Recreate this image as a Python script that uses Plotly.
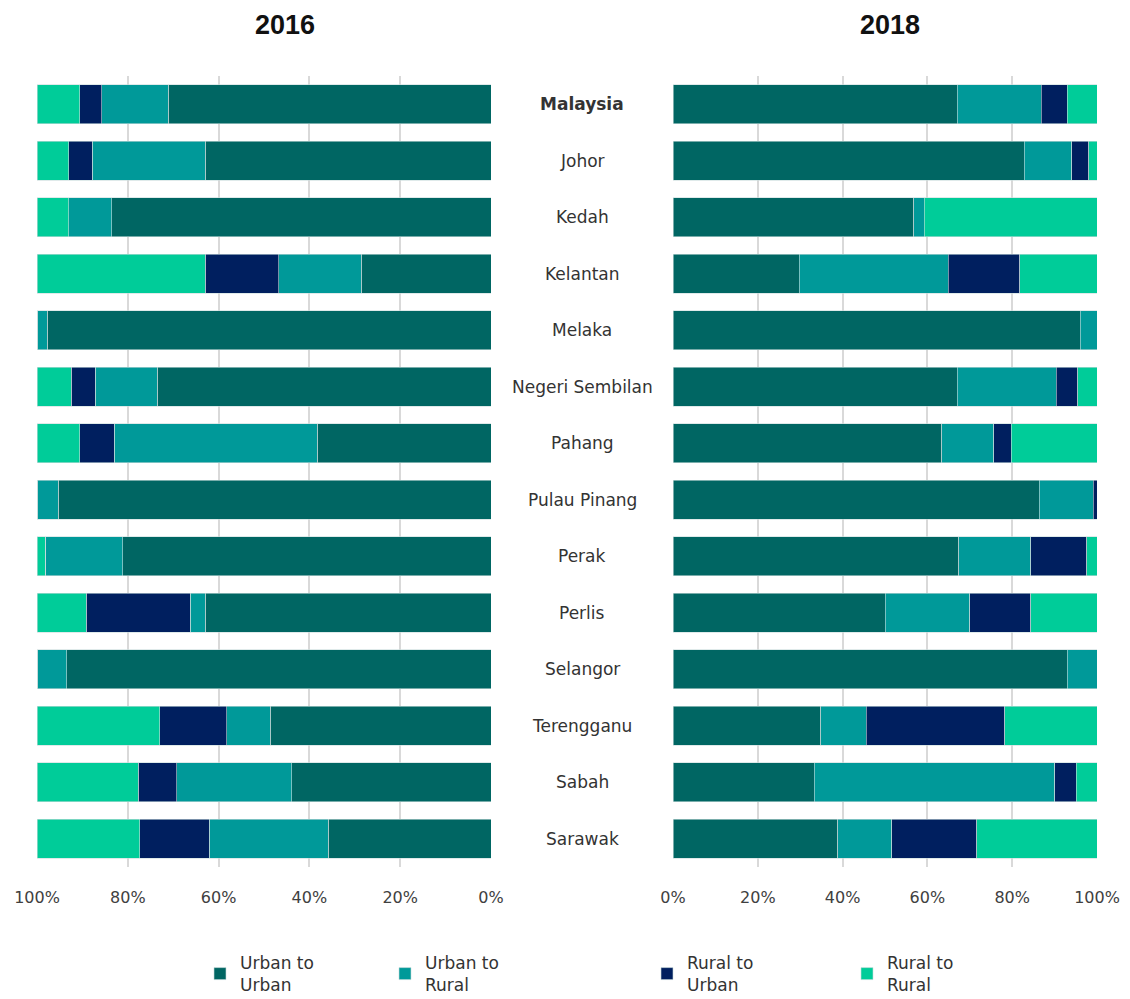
import plotly.graph_objects as go
from plotly.subplots import make_subplots

states = ["Malaysia", "Johor", "Kedah", "Kelantan", "Melaka", "Negeri Sembilan", "Pahang",
          "Pulau Pinang", "Perak", "Perlis", "Selangor", "Terengganu", "Sabah", "Sarawak"]

series_names = ["Urban to<br>Urban", "Urban to<br>Rural", "Rural to<br>Urban", "Rural to<br>Rural"]
colors = ["#006663", "#009999", "#001F5F", "#00CC99"]

# 2016 (%)
uu_2016 = [71.0, 62.9, 83.4, 28.6, 97.7, 73.4, 38.2, 95.2, 81.0, 62.9, 93.3, 48.6, 43.8, 35.8]
ur_2016 = [14.7, 24.8, 9.5, 18.1, 2.2, 13.6, 44.7, 4.7, 17.1, 3.3, 6.5, 9.5, 25.3, 26.2]
ru_2016 = [4.8, 5.2, 0.0, 16.2, 0.0, 5.3, 7.6, 0.0, 0.0, 22.9, 0.0, 14.8, 8.5, 15.3]
rr_2016 = [9.4, 7.0, 7.0, 37.0, 0.0, 7.5, 9.4, 0.0, 1.8, 10.8, 0.0, 27.0, 22.3, 22.6]

# 2018 (%)
uu_2018 = [67.0, 82.8, 56.8, 29.8, 96.1, 67.0, 63.4, 86.4, 67.4, 50.1, 93.0, 34.9, 33.3, 38.9]
ur_2018 = [19.9, 11.2, 2.5, 35.1, 3.9, 23.4, 12.3, 12.7, 17.0, 19.9, 7.0, 10.7, 56.6, 12.7]
ru_2018 = [6.1, 4.0, 0.0, 16.9, 0.0, 5.1, 4.1, 0.9, 13.2, 14.4, 0.0, 32.6, 5.1, 20.0]
rr_2018 = [7.0, 2.0, 40.7, 18.2, 0.0, 4.5, 20.3, 0.0, 2.4, 15.6, 0.0, 21.8, 4.9, 28.4]

tick_vals = [0, 20, 40, 60, 80, 100]
tick_text = ["0%", "20%", "40%", "60%", "80%", "100%"]

FONT = "DejaVu Sans"
TXT = "#404040"

fig = make_subplots(rows=1, cols=2)

data_2016 = [uu_2016, ur_2016, ru_2016, rr_2016]
data_2018 = [uu_2018, ur_2018, ru_2018, rr_2018]
legend_ids = ["legend", "legend2", "legend3", "legend4"]

for i in range(4):
    fig.add_trace(go.Bar(y=states, x=data_2016[i], orientation="h", name=series_names[i],
                         marker=dict(color=colors[i], line=dict(color="#c9dcdc", width=0.6)),
                         legend=legend_ids[i], showlegend=True), row=1, col=1)
    fig.add_trace(go.Bar(y=states, x=data_2018[i], orientation="h", name=series_names[i],
                         marker=dict(color=colors[i], line=dict(color="#c9dcdc", width=0.6)),
                         legend=legend_ids[i], showlegend=False), row=1, col=2)

W, H = 1130, 999
top, bottom = 76, 867
plot_h = bottom - top

def py(ypix):
    return (bottom - ypix) / plot_h

axis_common = dict(tickvals=tick_vals, ticktext=tick_text, showgrid=True,
                   gridcolor="#d9d9d9", gridwidth=1.5, zeroline=False, showline=False,
                   ticks="outside", ticklen=16, tickcolor="rgba(0,0,0,0)", tickwidth=1,
                   tickfont=dict(family=FONT, size=16, color=TXT))

fig.update_xaxes(**axis_common)
fig.update_xaxes(range=[100, 0], domain=[37 / W, 491 / W], row=1, col=1)
fig.update_xaxes(range=[0, 100], domain=[673 / W, 1097 / W], row=1, col=2)
fig.update_yaxes(autorange="reversed", showticklabels=False, showgrid=False, zeroline=False,
                 categoryorder="array", categoryarray=states)

annotations = []
for s in states:
    annotations.append(dict(x=582 / W, y=s, xref="paper", yref="y", text=(f"<b>{s}</b>" if s == "Malaysia" else s),
                            showarrow=False, xanchor="center", yanchor="middle",
                            font=dict(family=FONT, size=17, color="#333333")))
annotations.append(dict(x=285 / W, y=py(25), xref="paper", yref="paper", text="<b>2016</b>",
                        showarrow=False, xanchor="center", yanchor="middle",
                        font=dict(family="Liberation Sans", size=27, color="#111111")))
annotations.append(dict(x=890 / W, y=py(25), xref="paper", yref="paper", text="<b>2018</b>",
                        showarrow=False, xanchor="center", yanchor="middle",
                        font=dict(family="Liberation Sans", size=27, color="#111111")))

legend_lefts = [200, 385, 647, 847]
layout_legends = {}
for lid, lx in zip(legend_ids, legend_lefts):
    layout_legends[lid] = dict(x=lx / W, y=py(974), xanchor="left", yanchor="middle",
                               orientation="h", bgcolor="rgba(0,0,0,0)", itemwidth=30,
                               font=dict(family=FONT, size=17, color="#333333"))

fig.update_layout(
    width=W, height=H,
    barmode="stack", barnorm="percent", bargap=0.31,
    margin=dict(l=0, r=0, t=top, b=H - bottom, autoexpand=False),
    plot_bgcolor="white", paper_bgcolor="white",
    annotations=annotations,
    **layout_legends,
)

fig.write_html("out.html", config={"displayModeBar": False},
               post_script="document.body.style.margin='0px';")
